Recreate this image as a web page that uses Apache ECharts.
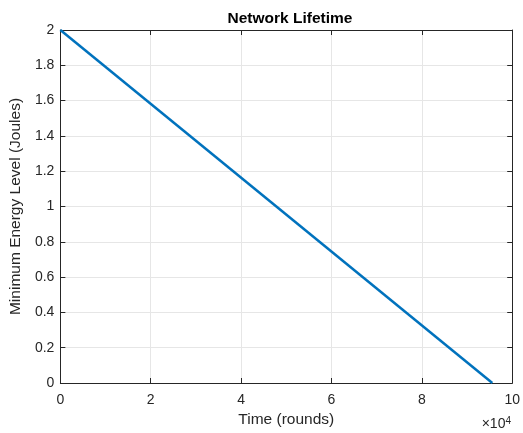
<!DOCTYPE html>
<html><head><meta charset="utf-8">
<script src="https://cdn.jsdelivr.net/npm/echarts@6/dist/echarts.min.js"></script>
<style>html,body{margin:0;padding:0;background:#fff}#c{width:523px;height:433px}</style>
</head><body><div id="c"></div>
<script>
const roundsX = [0, 95600];
const energyY = [2, 0];
const xTicks = [0, 2, 4, 6, 8, 10];
const yTicks = [0, 0.2, 0.4, 0.6, 0.8, 1, 1.2, 1.4, 1.6, 1.8, 2];

const font = 'Liberation Sans, Arial, sans-serif';
const txt = '#262626';
const chart = echarts.init(document.getElementById('c'));
const baseX = {
  type: 'value', min: 0, max: 100000, interval: 20000,
  axisLine: {show: true, onZero: false, lineStyle: {color: txt, width: 1}},
  axisTick: {show: true, inside: true, length: 5, lineStyle: {color: txt}},
  splitLine: {show: false}
};
const baseY = {
  type: 'value', min: 0, max: 2, interval: 0.2,
  axisLine: {show: true, onZero: false, lineStyle: {color: txt, width: 1}},
  axisTick: {show: true, inside: true, length: 5, lineStyle: {color: txt}},
  splitLine: {show: false}
};
chart.setOption({
  animation: false,
  title: {text: 'Network Lifetime', left: 285, top: 6, textAlign: 'center',
    textStyle: {fontFamily: font, fontSize: 15.5, fontWeight: 'bold', color: '#000'}},
  grid: {left: 60, right: 10, top: 30, bottom: 47, containLabel: false},
  xAxis: [
    Object.assign({}, baseX, {position: 'bottom',
      splitLine: {show: true, lineStyle: {color: '#e6e6e6'}},
      axisLabel: {margin: 10, fontFamily: font, fontSize: 14, color: txt,
        formatter: v => String(xTicks[Math.round(v / 20000)])},
      name: 'Time (rounds)', nameLocation: 'middle', nameGap: 29,
      nameTextStyle: {fontFamily: font, fontSize: 15.5, color: txt}}),
    Object.assign({}, baseX, {position: 'top', axisLabel: {show: false}})
  ],
  yAxis: [
    Object.assign({}, baseY, {position: 'left',
      splitLine: {show: true, lineStyle: {color: '#e6e6e6'}},
      axisLabel: {margin: 6, fontFamily: font, fontSize: 14, color: txt,
        formatter: v => String(yTicks[Math.round(v / 0.2)])},
      name: 'Minimum Energy Level (Joules)', nameLocation: 'middle', nameGap: 31,
      nameTextStyle: {fontFamily: font, fontSize: 15.5, color: txt}}),
    Object.assign({}, baseY, {position: 'right', axisLabel: {show: false}})
  ],
  graphic: [{type: 'text', right: 12, top: 416,
    style: {rich: {a: {fontFamily: font, fontSize: 14, fill: txt}, b: {fontFamily: font, fontSize: 10, fill: txt, verticalAlign: 'top', padding: [0,0,7,0]}},
      text: '{a|×10}{b|4}'}}],
  series: [{type: 'line', showSymbol: false, symbol: 'none',
    lineStyle: {color: '#0072BD', width: 2.5},
    data: roundsX.map((x, i) => [x, energyY[i]])}]
});
</script></body></html>
